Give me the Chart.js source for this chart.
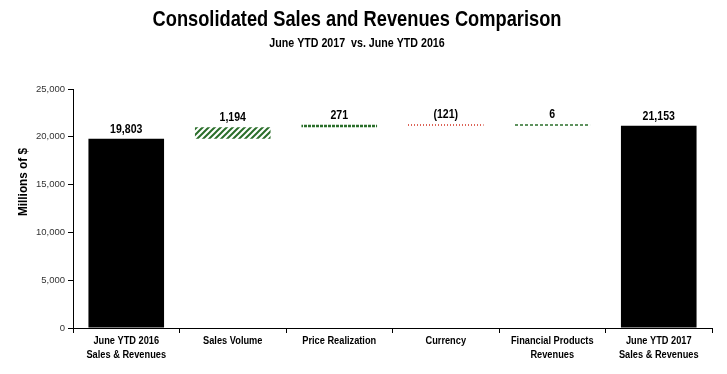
<!DOCTYPE html>
<html>
<head>
<meta charset="utf-8">
<script src="https://cdn.jsdelivr.net/npm/chart.js@4"></script>
<style>
  html, body { margin: 0; padding: 0; background: #fff; }
  #wrap { width: 727px; height: 374px; }
</style>
</head>
<body>
<div id="wrap"><canvas id="myChart" width="727" height="374"></canvas></div>
<script>
var categories = [
    ["June YTD 2016", "Sales & Revenues"],
    "Sales Volume",
    "Price Realization",
    "Currency",
    ["Financial Products", "Revenues"],
    ["June YTD 2017", "Sales & Revenues"]
];
var changes = [19803, 1194, 271, -121, 6, 21153];
var isTotal = [true, false, false, false, false, true];
var yTicks = [0, 5000, 10000, 15000, 20000, 25000];

var sans = '"Liberation Sans", Arial, sans-serif';

// floating bars: [low, high]
var ranges = [];
var running = 0;
changes.forEach(function (v, i) {
    if (isTotal[i]) {
        ranges.push([0, v]);
        running = v;
    } else {
        ranges.push([Math.min(running, running + v), Math.max(running, running + v)]);
        running += v;
    }
});

function makePattern(w, h, draw) {
    var c = document.createElement('canvas');
    c.width = w; c.height = h;
    var g = c.getContext('2d');
    g.fillStyle = '#fff';
    g.fillRect(0, 0, w, h);
    draw(g);
    return document.getElementById('myChart').getContext('2d').createPattern(c, 'repeat');
}

var hatch = makePattern(6, 6, function (g) {
    g.strokeStyle = '#2a6e2a';
    g.lineWidth = 2;
    g.beginPath();
    g.moveTo(-1, 7); g.lineTo(7, -1);
    g.moveTo(-4, 4); g.lineTo(4, -4);
    g.moveTo(2, 10); g.lineTo(10, 2);
    g.stroke();
});
var greenDash = makePattern(4, 4, function (g) {
    g.fillStyle = '#2a6e2a';
    g.fillRect(0, 0, 3, 4);
});
var redDot = makePattern(3, 3, function (g) {
    g.fillStyle = '#d03020';
    g.fillRect(0, 0, 1, 3);
});
var greenDash2 = makePattern(5, 2, function (g) {
    g.fillStyle = '#2a6e2a';
    g.fillRect(0, 0, 3, 2);
});

var fills = ['#000', hatch, greenDash, redDot, greenDash2, '#000'];

function fmt(v) {
    var s = Math.abs(v).toLocaleString('en-US');
    return v < 0 ? '(' + s + ')' : s;
}

// narrow look: squeeze text horizontally
function narrowText(ctx, text, x, y, sx) {
    ctx.save();
    ctx.translate(x, y);
    ctx.scale(sx, 1);
    ctx.fillText(text, 0, 0);
    ctx.restore();
}

var headerPlugin = {
    id: 'header',
    afterDraw: function (chart) {
        var ctx = chart.ctx;
        ctx.save();
        ctx.fillStyle = '#000';
        ctx.textAlign = 'center';
        ctx.textBaseline = 'middle';
        ctx.font = 'bold 22px ' + sans;
        narrowText(ctx, 'Consolidated Sales and Revenues Comparison', 357, 20, 0.83);
        ctx.font = 'bold 13px ' + sans;
        narrowText(ctx, 'June YTD 2017  vs. June YTD 2016', 357, 43, 0.82);

        // value labels
        var meta = chart.getDatasetMeta(0);
        ctx.font = 'bold 12px ' + sans;
        ctx.textBaseline = 'alphabetic';
        meta.data.forEach(function (bar, i) {
            var top = Math.min(bar.y, bar.base);
            narrowText(ctx, fmt(changes[i]), bar.x, top - 6, 0.88);
        });

        // category labels
        var xs = chart.scales.x;
        ctx.font = 'bold 11px ' + sans;
        ctx.textBaseline = 'middle';
        categories.forEach(function (c, i) {
            var lines = Array.isArray(c) ? c : [c];
            var px = xs.getPixelForValue(i);
            lines.forEach(function (l, j) {
                narrowText(ctx, l, px, 341 + j * 14, 0.84);
            });
        });

        // y axis title
        ctx.translate(24, 182);
        ctx.rotate(-Math.PI / 2);
        ctx.font = 'bold 12px ' + sans;
        narrowText(ctx, 'Millions of $', 0, 0, 0.98);
        ctx.restore();
    }
};

var ctx = document.getElementById('myChart').getContext('2d');
var myChart = new Chart(ctx, {
    type: 'bar',
    data: {
        labels: categories,
        datasets: [{
            data: ranges,
            backgroundColor: fills,
            borderWidth: 0,
            borderSkipped: false,
            minBarLength: 1.5,
            categoryPercentage: 1,
            barPercentage: 0.71
        }]
    },
    options: {
        responsive: false,
        animation: false,
        layout: { padding: { top: 89, right: 15, left: 0, bottom: 0 } },
        plugins: {
            legend: { display: false },
            tooltip: { enabled: false }
        },
        scales: {
            x: {
                offset: true,
                grid: { display: true, drawOnChartArea: false, offset: true, tickLength: 5, color: '#000' },
                border: { color: '#000', width: 1 },
                ticks: { display: false },
                afterFit: function (scale) { scale.height = 46; }
            },
            y: {
                min: 0,
                max: 25000,
                afterBuildTicks: function (scale) {
                    scale.ticks = yTicks.map(function (v) { return { value: v }; });
                },
                grid: { display: true, drawOnChartArea: false, tickLength: 5, color: '#000' },
                border: { color: '#000', width: 1 },
                ticks: {
                    color: '#333',
                    font: { family: sans, size: 9.5 },
                    padding: 3,
                    callback: function (v) { return v.toLocaleString('en-US'); }
                },
                afterFit: function (scale) { scale.width = 73; }
            }
        }
    },
    plugins: [headerPlugin]
});
</script>
</body>
</html>
